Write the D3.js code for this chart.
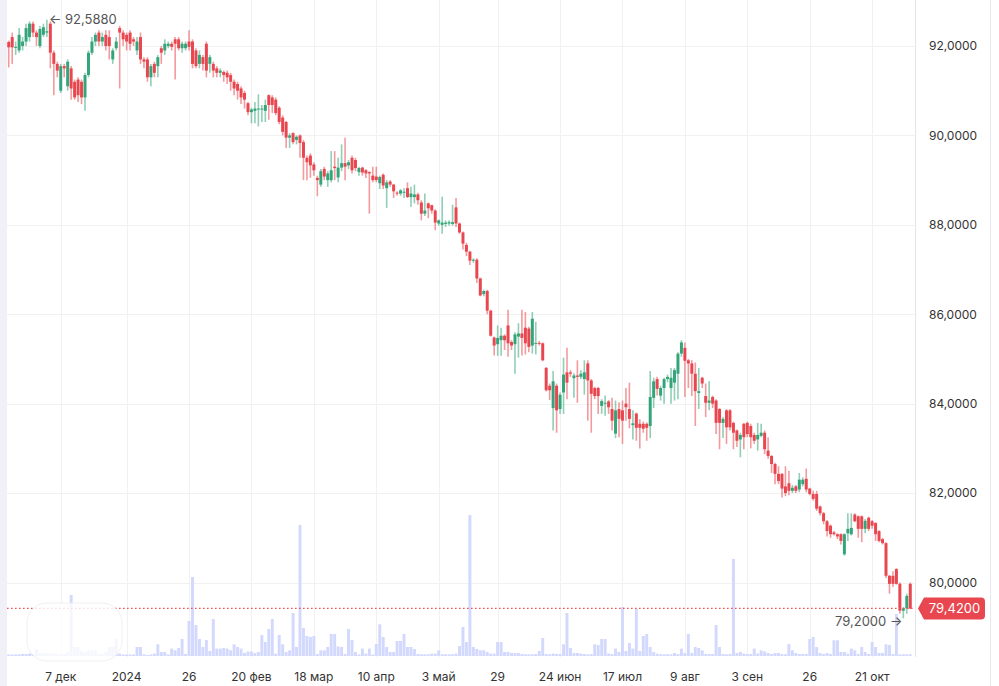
<!DOCTYPE html>
<html><head><meta charset="utf-8">
<script src="https://cdn.jsdelivr.net/npm/d3@7"></script>
<style>
body{margin:0;background:#fff;}
svg{display:block;font-family:Inter,"Noto Sans",sans-serif;}
</style>
</head><body>
<svg id="chart" width="999" height="686"></svg>
<script>
// ---------- DATA ----------
const opens = [
92.09,92.2,91.97,91.9,92.0,92.1,92.2,92.5,92.3,92.0,
92.25,92.3,92.5,91.85,91.6,91.0,91.55,91.1,91.5,91.2,
91.25,91.2,90.85,91.35,91.85,92.1,92.3,92.1,92.25,92.2,
91.7,91.95,92.4,92.3,92.25,92.3,92.15,91.9,92.2,91.7,
91.7,91.3,91.6,91.55,91.95,91.9,92.0,92.05,92.15,92.15,
91.95,91.95,92.1,92.1,91.9,91.6,91.75,92.05,91.6,91.6,
91.5,91.4,91.42,91.4,91.35,91.2,91.15,91.05,90.95,90.72,
90.52,90.55,90.58,90.58,90.55,90.9,90.85,90.8,90.62,90.4,
90.3,89.95,90.05,89.9,90.0,89.85,89.5,89.55,89.35,89.05,
88.9,89.25,89.0,89.0,89.3,89.06,89.28,89.38,89.33,89.5,
89.45,89.18,89.28,89.22,89.18,89.1,89.08,88.93,89.12,88.82,
88.97,88.9,88.72,88.7,88.73,88.82,88.62,88.62,88.68,88.5,
88.25,88.48,88.44,88.32,88.03,88.0,88.02,88.03,88.02,88.39,
88.03,87.83,87.55,87.4,87.2,87.22,86.8,86.45,86.52,86.08,
85.48,85.33,85.42,85.52,85.75,85.38,85.33,85.5,85.57,85.7,
85.68,85.3,85.34,85.36,85.35,84.8,84.4,83.9,84.4,83.88,
84.25,84.7,84.7,84.57,84.63,84.6,84.55,84.9,84.52,84.35,
84.35,83.95,84.0,84.05,83.88,83.33,83.88,83.85,84.0,83.88,
83.52,83.78,83.55,83.55,83.55,83.5,84.13,84.55,84.18,84.35,
84.55,84.35,84.47,84.67,85.12,85.25,84.97,84.9,84.67,84.24,
84.58,84.17,84.02,84.15,84.07,83.88,83.57,83.85,83.85,83.57,
83.4,83.2,83.55,83.57,83.5,83.3,83.2,83.28,83.35,82.95,
82.83,82.65,82.43,82.43,82.15,82.22,82.05,82.15,82.08,82.2,
82.32,82.1,81.98,81.98,81.7,81.55,81.37,81.27,81.12,81.08,
81.08,80.63,81.1,81.08,81.52,81.48,81.48,81.2,81.45,81.37,
81.33,81.15,80.97,80.88,80.15,80.15,80.3,79.97,79.37,79.42,
79.97];
const highs = [
92.12,92.3,92.1,92.4,92.2,92.5,92.55,92.55,92.35,92.45,
92.5,92.588,92.55,91.9,91.65,91.6,91.6,91.7,91.55,91.25,
91.3,91.25,91.4,91.9,92.2,92.3,92.35,92.3,92.35,92.35,
91.95,92.2,92.45,92.35,92.3,92.35,92.2,92.2,92.3,91.75,
91.75,91.6,91.65,91.8,92.0,92.15,92.1,92.1,92.2,92.2,
92.1,92.1,92.35,92.15,91.95,91.9,91.8,92.1,91.8,91.65,
91.55,91.5,91.45,91.45,91.4,91.25,91.2,91.1,91.0,90.75,
90.62,90.75,90.92,90.68,90.8,90.92,90.9,90.85,90.65,90.45,
90.32,90.05,90.07,90.0,90.02,89.9,89.55,89.6,89.4,89.1,
89.25,89.3,89.2,89.65,89.65,89.5,89.8,89.95,89.45,89.55,
89.5,89.3,89.3,89.25,89.2,89.3,89.3,89.1,89.15,89.0,
89.0,88.92,88.75,88.8,88.82,88.95,88.85,88.9,88.72,88.55,
88.7,88.5,88.45,88.35,88.12,88.63,88.1,88.1,88.45,88.6,
88.05,87.85,87.6,87.42,87.25,87.25,86.82,86.55,86.55,86.1,
85.5,85.75,85.7,85.55,86.1,85.42,85.6,85.8,86.1,86.05,
85.72,86.05,85.83,85.4,85.37,84.82,84.45,84.73,84.45,84.25,
85.03,85.25,84.75,84.68,84.97,84.75,84.97,84.97,84.55,84.38,
84.38,84.1,84.18,84.08,84.13,84.07,84.03,84.07,84.35,84.47,
83.85,83.8,83.65,83.6,83.58,84.73,84.58,84.6,84.4,84.58,
84.65,84.8,84.8,85.15,85.42,85.37,85.0,84.97,84.92,84.8,
84.6,84.45,84.5,84.18,84.1,83.9,83.7,83.88,83.88,83.6,
83.42,83.35,83.57,83.6,83.55,83.35,83.57,83.55,83.4,83.25,
82.85,82.68,82.6,82.45,82.6,82.5,82.18,82.18,82.45,82.35,
82.55,82.12,82.05,82.05,81.72,81.58,81.4,81.3,81.15,81.1,
81.1,81.1,81.55,81.55,81.55,81.5,81.5,81.42,81.47,81.4,
81.35,81.17,81.0,80.9,80.17,80.25,80.32,80.0,79.45,79.75,
80.0];
const lows = [
91.52,91.6,91.8,91.85,91.9,92.0,92.1,92.2,92.0,91.95,
92.2,92.2,91.5,90.9,91.3,90.95,91.3,91.0,90.8,90.8,
90.75,90.7,90.55,91.3,91.8,92.0,92.0,92.0,91.9,91.7,
91.6,91.9,91.05,92.0,91.9,91.9,92.0,91.8,91.6,91.5,
91.2,91.1,91.3,91.3,91.6,91.8,91.95,91.9,91.25,91.9,
91.85,91.9,91.9,91.5,91.5,91.5,91.45,91.3,91.4,91.3,
91.3,91.3,91.2,91.15,91.0,90.9,90.8,90.7,90.6,90.45,
90.27,90.27,90.2,90.3,90.3,90.35,90.5,90.45,90.25,90.0,
89.72,89.72,89.8,89.8,89.5,89.0,89.0,89.05,89.1,88.64,
88.85,89.0,88.85,88.95,89.0,88.95,89.2,89.0,89.25,89.15,
89.2,89.1,89.1,89.05,88.25,88.95,88.95,88.8,88.8,88.38,
88.85,88.6,88.65,88.65,88.6,88.6,88.4,88.48,88.45,88.1,
88.2,88.15,88.25,87.88,87.98,87.8,87.95,87.98,87.98,87.95,
87.8,87.45,87.3,87.1,87.15,86.7,86.4,86.4,86.0,85.5,
85.08,85.07,85.07,85.2,85.05,85.2,84.67,85.03,85.08,85.1,
85.15,85.12,85.1,85.3,84.95,84.27,84.08,83.4,83.35,83.77,
83.77,84.1,84.6,84.13,84.02,84.55,84.2,83.62,83.35,84.1,
83.77,83.77,83.73,83.77,83.4,83.23,83.25,83.1,83.62,83.45,
83.2,83.17,83.0,83.35,83.17,83.23,83.9,84.18,84.07,84.0,
84.48,84.0,84.07,84.1,85.05,84.15,84.35,84.17,83.5,83.88,
84.35,83.7,83.85,83.9,83.32,82.98,83.23,83.1,83.4,82.98,
83.03,82.8,82.98,83.25,83.0,83.1,82.95,83.25,82.87,82.77,
82.45,82.2,82.2,81.9,81.93,81.95,82.0,82.0,82.02,82.15,
82.02,81.95,81.83,81.6,81.5,81.3,81.03,81.0,81.05,80.97,
80.85,80.6,80.93,81.05,81.35,81.0,80.9,81.1,81.15,81.2,
80.93,80.9,80.85,80.1,79.75,79.9,79.95,79.3,79.2,79.3,
79.4];
const closes = [
91.97,91.97,91.98,92.25,92.1,92.4,92.5,92.3,92.2,92.38,
92.42,92.33,91.85,91.6,91.45,91.55,91.5,91.65,91.05,90.85,
90.9,90.85,91.35,91.85,92.1,92.25,92.1,92.2,92.0,92.0,
91.9,92.1,92.3,92.15,92.1,92.05,92.1,92.1,91.7,91.65,
91.3,91.55,91.4,91.75,91.85,92.05,92.05,91.98,92.05,91.95,
92.05,92.05,91.98,91.6,91.55,91.8,91.6,91.45,91.75,91.45,
91.4,91.45,91.35,91.3,91.2,91.05,91.0,90.85,90.8,90.52,
90.58,90.6,90.6,90.6,90.68,90.68,90.68,90.5,90.3,90.08,
89.95,90.0,89.85,89.97,89.83,89.5,89.4,89.33,89.22,89.0,
89.2,89.08,89.15,89.22,89.27,89.28,89.38,89.3,89.4,89.22,
89.27,89.27,89.17,89.15,89.15,89.0,89.0,89.07,88.88,88.95,
88.9,88.75,88.7,88.77,88.74,88.62,88.7,88.68,88.55,88.25,
88.32,88.37,88.32,88.05,88.1,88.05,88.05,88.06,88.06,88.03,
87.83,87.58,87.4,87.2,87.22,86.8,86.42,86.52,86.08,85.52,
85.3,85.47,85.52,85.42,85.35,85.3,85.55,85.57,85.47,85.35,
85.27,85.9,85.36,85.34,84.97,84.3,84.3,84.5,83.85,84.2,
84.65,84.47,84.67,84.63,84.6,84.67,84.7,84.52,84.22,84.17,
84.17,84.06,84.02,83.92,83.62,83.85,83.66,83.62,83.92,83.66,
83.56,83.46,83.46,83.44,83.46,84.15,84.5,84.33,84.35,84.55,
84.6,84.58,84.75,85.12,85.37,84.96,84.9,84.67,84.28,84.28,
84.45,84.02,84.07,84.0,83.57,83.57,83.66,83.47,83.47,83.35,
83.17,83.3,83.25,83.32,83.25,83.17,83.3,83.35,82.98,82.83,
82.65,82.43,82.27,82.1,82.0,82.05,82.12,82.05,82.3,82.3,
82.08,81.98,81.87,81.65,81.55,81.37,81.15,81.08,81.08,81.03,
80.93,81.08,81.2,81.22,81.37,81.2,81.2,81.38,81.2,81.27,
81.08,80.93,80.88,80.15,79.97,79.97,79.97,79.37,79.42,79.7,
79.42];
const volumes = [
1.5,1.5,1.5,1.7,2,2,2.4,2.4,7,3,
3,2.4,2.4,3,2,1.7,2,4,61,9,
9,5,4,5.7,5.7,5.7,2,2,4,9,
9,17,2.4,1.5,1.5,1.5,1.5,9,9,1.7,
1,1.5,2.4,11.7,4,4,1.5,7.4,5.7,8,
17,2,35,79,31,17,9,16,5,37,
7.4,7.4,8,7.4,5.7,11.7,9,7.4,3,4.5,
4.5,3,4,21,14,27,37,2.4,21,11.7,
4,5.7,43,9,131,28,20,19,20,2,
5.7,5.7,9,22,22,9.5,9,2,27,16,
4,1.5,7.4,2.4,7.4,1.5,12,31.7,19,9,
4,4,15,15,22,9,9,7,2,1.7,
1.7,1.7,2.4,2.4,5.7,1.7,1.7,1.7,1.7,2.4,
10,29,14,141,9,7,5.7,5.7,4,2.4,
2.4,14,14,4,4,3,3,3,2,1.7,
1.7,1.7,2,5,18,2,1.7,2.4,2,2,
11.7,43,8,3,3,2.4,2,1.7,2,11.7,
11,17,17,2.4,2,7.4,4,49,5,13,
7.4,47,5,20,22,9,4,2.4,1.7,1.7,
1.7,1.7,3,2,7.4,3,22,3,9,8,
5.7,2,2,2,31,9,2,1.7,2,97,
3,4,2.4,2,2,7.4,2.4,5.7,4.5,3,
2,3,3,2,1.7,12,5.7,3,2,2,
2,17,19,9,3,2,3,2,15.7,15.7,
4,4,2.4,7.4,5.7,2,9,4,2,14,
9,3,3,11.7,11,2,42,1.7,1.7,1.7,
1.7];
const tickIndex  = [15,34,52,70,88,106,124,141,159,177,195,213,231,249];
const tickLabels = ["7 дек","2024","26","20 фев","18 мар","10 апр","3 май","29","24 июн","17 июл","9 авг","3 сен","26","21 окт"];
const priceTicks = [80,82,84,86,88,90,92];
const lastPrice = 79.42;

// ---------- CHART ----------
const W = 999, H = 686;
const plotL = 7, plotR = 915, plotB = 657;
const UP = "#34a57a", DOWN = "#e9474f";
const fmt = v => d3.format(".4f")(v).replace(".", ",");

const svg = d3.select("#chart");
svg.append("rect").attr("width", W).attr("height", H).attr("fill", "#fff");
svg.append("rect").attr("x", 0).attr("y", 0).attr("width", plotL).attr("height", H).attr("fill", "#f0f0f6");

const N = closes.length;
const x = d3.scaleBand().domain(d3.range(N)).range([plotL, 912]).padding(0);
const cx = i => x(i) + x.bandwidth() / 2;
const y = d3.scaleLinear().domain([80, 92]).range([582.5, 46]);
const yv = d3.scaleLinear().domain([0, 150]).range([656, 506]);

// grid
const grid = svg.append("g").attr("stroke", "#f1f1f1").attr("stroke-width", 1);
grid.selectAll("line.h").data(priceTicks).join("line")
  .attr("x1", plotL).attr("x2", plotR)
  .attr("y1", d => Math.round(y(d)) + 0.5).attr("y2", d => Math.round(y(d)) + 0.5);
grid.selectAll("line.v").data(tickIndex).join("line")
  .attr("y1", 0).attr("y2", plotB)
  .attr("x1", d => Math.round(cx(d)) + 0.5).attr("x2", d => Math.round(cx(d)) + 0.5);

// volume
const vbw = x.bandwidth() * 0.85;
svg.append("g").selectAll("rect").data(volumes).join("rect")
  .attr("x", (d, i) => cx(i) - vbw / 2)
  .attr("y", d => yv(d))
  .attr("width", vbw)
  .attr("height", d => yv(0) - yv(d))
  .attr("fill", "#d3d9fd");

// candles
const bw = x.bandwidth() * 0.86;
const candles = svg.append("g");
const idx = d3.range(N);
candles.selectAll("line").data(idx).join("line")
  .attr("x1", i => cx(i)).attr("x2", i => cx(i))
  .attr("y1", i => y(highs[i])).attr("y2", i => y(lows[i]))
  .attr("stroke", i => closes[i] >= opens[i] ? UP : DOWN)
  .attr("stroke-width", 1.6).attr("stroke-opacity", 0.55);
candles.selectAll("rect").data(idx).join("rect")
  .attr("x", i => cx(i) - bw / 2)
  .attr("width", bw)
  .attr("y", i => y(Math.max(opens[i], closes[i])))
  .attr("height", i => Math.max(1, Math.abs(y(opens[i]) - y(closes[i]))))
  .attr("fill", i => closes[i] >= opens[i] ? UP : DOWN);

// last price dotted line
svg.append("line").attr("x1", plotL).attr("x2", plotR)
  .attr("y1", y(lastPrice)).attr("y2", y(lastPrice))
  .attr("stroke", "#ef5350").attr("stroke-width", 1.3).attr("stroke-dasharray", "1.6,2.4");

// watermark
svg.append("rect").attr("x", 27).attr("y", 603).attr("width", 95).attr("height", 58).attr("rx", 20)
  .attr("fill", "#fff").attr("opacity", 0.8).attr("stroke", "#eeeeee");

// high / low annotations
const hi = d3.maxIndex(highs), lo = d3.minIndex(lows);
svg.append("text").attr("x", cx(hi) + 2).attr("y", y(highs[hi])).attr("dy", "0.35em")
  .attr("font-size", 13).attr("fill", "#555").text("← " + fmt(highs[hi]));
svg.append("text").attr("x", cx(lo) - 1).attr("y", y(lows[lo]) + 3).attr("dy", "0.35em")
  .attr("text-anchor", "end").attr("font-size", 13).attr("fill", "#555").text(fmt(lows[lo]) + " →");

// borders
svg.append("line").attr("x1", plotR + 0.5).attr("x2", plotR + 0.5).attr("y1", 0).attr("y2", plotB).attr("stroke", "#e6e6ea");
svg.append("line").attr("x1", 990.5).attr("x2", 990.5).attr("y1", 0).attr("y2", H).attr("stroke", "#e8e8ee");

// y axis
const yAxis = svg.append("g").attr("transform", `translate(${plotR},0)`)
  .call(d3.axisRight(y).tickValues(priceTicks).tickFormat(fmt).tickSize(0).tickPadding(14));
yAxis.select(".domain").remove();
yAxis.selectAll("text").attr("font-size", 12).attr("fill", "#333").attr("font-family", "Inter,sans-serif");

// x axis
const xAxis = svg.append("g").attr("transform", `translate(0,${plotB})`)
  .call(d3.axisBottom(x).tickValues(tickIndex).tickFormat(d => tickLabels[tickIndex.indexOf(d)]).tickSize(0).tickPadding(15));
xAxis.select(".domain").remove();
xAxis.selectAll("text").attr("font-size", 12).attr("fill", "#333").attr("font-family", "Inter,sans-serif");

// last price label
const ly = y(lastPrice);
const pl = 918, pb = 924, pr = 985, ph = 11, r = 4;
svg.append("path")
  .attr("d", `M${pl},${ly} L${pb},${ly - ph} L${pr - r},${ly - ph} Q${pr},${ly - ph} ${pr},${ly - ph + r} L${pr},${ly + ph - r} Q${pr},${ly + ph} ${pr - r},${ly + ph} L${pb},${ly + ph} Z`)
  .attr("fill", DOWN);
svg.append("text").attr("x", (pb + pr) / 2).attr("y", ly).attr("dy", "0.35em")
  .attr("text-anchor", "middle").attr("font-size", 13).attr("fill", "#fff").text(fmt(lastPrice));
</script>
</body></html>
